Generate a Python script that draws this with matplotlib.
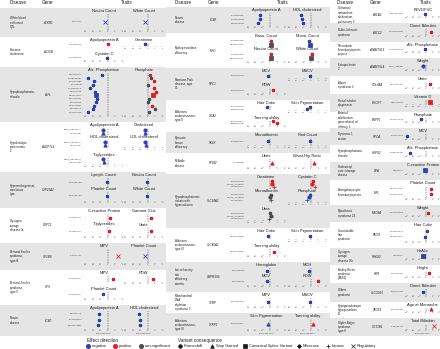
import matplotlib
matplotlib.use("Agg")
import matplotlib.pyplot as plt
from matplotlib.patches import Rectangle

plt.rcParams['font.family'] = ['Liberation Sans', 'DejaVu Sans']

# ---- data (left column, then middle, then right) ----
DISEASES = [
    "White blood\ncell count\nQTL", "Fructose\nintolerance", "Hypophosphatasia,\ninfantile",
    "Hypobetalipo-\nproteinemia\n2", "Hyperandrogenism,\nnonclassic\ntype", "Glycogen\nstorage\ndisease Ia",
    "Bernard-Soulier\nsyndrome,\ntype B", "Bernard-Soulier\nsyndrome,\ntype C", "Norum\ndisease",
    "Norum\ndisease", "Myeloperoxidase\ndeficiency", "Niemann-Pick\ndisease, type\nC1",
    "Albinism,\noculocutaneous,\ntype II", "Pyruvate\nkinase\ndeficiency", "McArdle\ndisease",
    "Hypophosphatemic\nrickets with\nhypercalciuria", "Albinism,\noculocutaneous,\ntype IV",
    "Iron-refractory\niron\ndeficiency\nanemia", "Mitochondrial\nDNA\ndepletion\nsyndrome 3",
    "Albinism,\noculocutaneous,\ntype III",
    "Surfactant\nmetabolism\ndysfunction,\npulmonary 3", "Dubin-Johnson\nsyndrome",
    "Thrombotic\nthrombocytopenic\npurpura", "Ectopia lentis\n2", "Alport\nsyndrome 2",
    "Renal tubular\ndysgenesis", "Arterial\ncalcification,\ngeneralized, of\ninfancy, 1",
    "Dystonia 2,\ntorsion", "Hypophosphatasia,\ninfantile", "Cholesteryl\nester storage\ndisease",
    "Amegakaryocytic\nthrombocytopenia", "Myasthenic\nsyndrome 24", "Uncombable\nhair\nsyndrome",
    "Glycogen\nstorage\ndisease IXc", "Antley-Bixler\nsyndrome\n(ABS1)", "Gilbert\nsyndrome",
    "Hypogonadotropic\nhypogonadism\n11", "Crigler-Najjar\nsyndrome,\ntype II",
]
GENES = [
    "ACKR1", "ALDOB", "ALPL", "ANGPTL3", "CYP21A2", "G6PC1", "GP1BB", "GP9", "LCAT",
    "LCAT", "MPO", "NPC1", "OCA2", "PKLR", "PYGM", "SLC34A3", "SLC45A2", "TMPRSS6", "TYMP", "TYRP1",
    "ABCA3", "ABCC2", "ADAMTS13", "ADAMTSL4", "COL4A4", "DHCR7", "ENPP1", "HPCA", "HSPG2",
    "LIPA", "MPL", "MYO9A", "PADI3", "PHKG2", "POR", "SLCO1B1", "TACR3", "UGT1A1",
]
TRAITS = [
    ["Neutro Count", "White Count"],
    ["Apolipoprotein A", "Creatinine", "Cystatin C"],
    ["Alk. Phosphatase", "Phosphate"],
    ["Apolipoprotein A", "Cholesterol", "HDL cholesterol", "LDL cholesterol", "Triglycerides"],
    ["Lymph. Count", "Neutro Count", "Platelet Count", "White Count"],
    ["C-reactive Protein", "Gamma Glut.", "Triglycerides", "Urate"],
    ["MPV", "Platelet Count"],
    ["MPV", "PDW", "Platelet Count"],
    ["Apolipoprotein A", "HDL cholesterol"],
    ["Apolipoprotein A", "HDL cholesterol"],
    ["Baso. Count", "Mono. Count", "Neutro Count", "White Count"],
    ["MCV", "MSCV", "PDW"],
    ["Hair Color", "Skin Pigmentation", "Tanning ability"],
    ["Microalbumin", "Red Count"],
    ["Urate", "Waist-Hip Ratio"],
    ["Creatinine", "Cystatin C", "Microalbumin", "Phosphate", "Urea"],
    ["Hair Color", "Skin Pigmentation", "Tanning ability"],
    ["Hemoglobin", "MCH", "MCV", "RDW"],
    ["MPV", "MSCV"],
    ["Skin Pigmentation", "Tanning ability"],
    ["FEV1/FVC"], ["Direct Bilirubin"], ["Alk. Phosphatase"], ["Weight"], ["Urate"],
    ["Vitamin D"], ["Phosphate"], ["MCV"], ["Alk. Phosphatase"], ["C-reactive Protein"],
    ["Platelet Count"], ["Weight"], ["Hair Color"], ["HbA1c"], ["Height"],
    ["Direct Bilirubin"], ["Age at Menarche"], ["Total Bilirubin"],
]
VARIANTS = [
    ["c.-67T>C"], ["p.Ala150Pro"],
    ["p.Glu191Lys", "p.Asp378Val", "p.Arg136His", "p.Ala33Val", "p.Arg391Cys", "p.Gly63Arg",
     "c.648+1G>A", "p.Tyr263His", "p.Arg71His", "p.Val111Met", "p.Thr166Ile", "p.Arg167Trp"],
    ["c.883_884delAT", "p.Ser17Ter"], ["p.Val282Leu"], ["p.Arg83Cys"], ["c.-133C>G"],
    ["p.Asn61Ser"], ["p.Thr147Ile", "p.Arg159Gln", "p.Thr347Met"],
    ["p.Arg159Trp", "p.Asn155Ser", "p.Leu324Pro"], ["p.Arg569Trp", "c.2031-2A>C"],
    ["p.Ile1061Thr"], ["p.Arg419Gln", "p.His615Arg"], ["p.Arg510Gln"], ["p.Arg50Ter"],
    ["p.Ser192Leu", "c.1402_1422del", "c.448+5G>A"], ["p.Leu374Phe"], ["p.Val736Ala"],
    ["p.Glu289Ala"], ["p.Ser166Ter"],
    ["p.Glu292Val"], ["p.Arg1150His"], ["p.Arg1060Trp"], ["c.767_786del"], ["p.Gly545Ala"],
    ["c.964-1G>C"], ["p.Arg774Cys"], ["p.Asn75Lys"], ["p.Asp361Val"], ["c.894G>A"],
    ["p.Pro106Leu", "p.Arg102Pro"], ["p.Arg701Cys"], ["p.Arg112Cys", "p.Leu113Pro"],
    ["c.190C>T"], ["p.Ala503Val"], ["p.Val174Ala"], ["p.Trp275Ter"], ["c.-3279T>G"],
]
CONSEQ = [
    ["Regulatory"], ["Missense"], ["Missense"] * 6 + ["Canonical Splice Variant"] + ["Missense"] * 5,
    ["Frameshift", "Stop Gained"], ["Missense"], ["Missense"], ["Regulatory"], ["Missense"],
    ["Missense"] * 3,
    ["Missense"] * 3, ["Missense", "Canonical Splice Variant"], ["Missense"], ["Missense", "Missense"],
    ["Missense"], ["Stop Gained"], ["Missense", "Frameshift", "Intronic"], ["Missense"], ["Missense"],
    ["Missense"], ["Stop Gained"],
    ["Missense"], ["Missense"], ["Missense"], ["Frameshift"], ["Missense"], ["Canonical Splice Variant"],
    ["Missense"], ["Missense"], ["Missense"], ["Canonical Splice Variant"], ["Missense", "Missense"],
    ["Missense"], ["Missense", "Missense"], ["Canonical Splice Variant"], ["Missense"], ["Missense"],
    ["Stop Gained"], ["Regulatory"],
]
# effect size per trait per variant (None = not shown)
BETA = [
    [[-0.3], [-0.3]],
    [[0.1], [-0.4], [-0.1]],
    [[-0.7, -2.6, -1.8, -1.9, -2.4, -1.7, -1.5, -1.4, -1.5, -1.8, -1.9, -2.6],
     [0.3, 0.5, 0.9, 0.1, 0.9, 1.1, 0.7, 0.2, 0.1, 0.6, 1.0, 0.2]],
    [[-0.6, -0.6], [-0.3, -0.3], [-0.4, -0.3], [-0.3, -0.2], [-0.6, -0.5]],
    [[-0.1], [-0.1], [-0.1], [-0.1]],
    [[0.3], [0.5], [0.2], [0.5]],
    [[1.4], [-0.4]],
    [[0.7], [0.7], [-0.6]],
    [[-1.2, -1.2, -1.3], [-1.2, -1.0, -1.0]],
    [[-1.3, -1.4, -1.6], [-1.3, -1.2, -1.1]],
    [[0.2, 0.1], [-0.3, -0.2], [0.2, 0.1], [0.1, 0.0]],
    [[-0.3], [-0.2], [0.4]],
    [[-0.4, None], [-0.2, -0.5], [0.4, 1.0]],
    [[-0.3], [-0.2]],
    [[0.3], [0.4]],
    [[0.3, 0.3, 0.5], [0.3, 0.2, 0.5], [0.1, 0.0, 0.1], [-0.2, -0.3, -0.5], [0.0, 0.1, -0.1]],
    [[-0.3], [-0.2], [0.6]],
    [[-0.4], [-0.3], [-0.4], [0.9]],
    [[-0.3], [-0.2]],
    [[-0.3], [0.3]],
    [[-0.1]], [[0.7]], [[-0.2]], [[-0.5]], [[0.6]], [[0.6]], [[-0.7]], [[-3.0]], [[-2.4]],
    [[-0.1]], [[0.8, 0.7]], [[0.3]], [[0.1, -0.1]], [[-0.5]], [[0.5]], [[-0.4]], [[0.7]], [[1.2]],
]
# effect direction per trait, one char per variant: n negative, p positive, o non-significant
SIG = [
    ["n", "n"], ["p", "n", "n"], ["nnnnnnnnnnnn", "popopppoopoo"], ["nn", "nn", "nn", "nn", "nn"],
    ["n", "n", "n", "n"], ["p", "p", "p", "p"], ["p", "n"], ["p", "p", "n"], ["nnn", "nnn"],
    ["nnn", "nnn"], ["po", "nn", "po", "po"], ["n", "n", "p"], ["n-", "on", "pp"], ["n", "n"],
    ["p", "p"], ["ppp", "ppp", "ooo", "nnn", "ooo"], ["n", "n", "p"], ["n", "n", "n", "p"],
    ["n", "n"], ["n", "p"],
    ["n"], ["p"], ["n"], ["n"], ["p"], ["p"], ["n"], ["n"], ["n"], ["n"], ["pp"], ["p"], ["on"],
    ["n"], ["p"], ["n"], ["p"], ["p"],
]

# ---- layout (pixels) ----
W, H = 440, 349
COLS = [
    dict(rows=range(0, 9), x0=0, x1=166, dis_x=10, gene_x=48, zeros=[107.5, 147.5], scale=7.4,
         edges=[8, 37, 67, 122, 172, 208, 243, 270, 305, 336], hdr=(10, 48, 127), first_gray=True),
    dict(rows=range(9, 20), x0=166, x1=330, dis_x=175, gene_x=213, zeros=[270, 311], scale=7.4,
         edges=[7, 33, 68, 100, 132, 153, 174, 228, 262, 292, 313, 336], hdr=(175, 214, 283), first_gray=True),
    dict(rows=range(20, 38), x0=330, x1=440, dis_x=338, gene_x=377, zeros=[426], scale=6.5,
         edges=[7, 23, 42, 58, 76, 94, 112, 128, 145, 162, 180, 205, 222, 248, 265, 283, 302, 318, 336],
         hdr=(337, 375, 426), first_gray=False),
]
XLO, XHI = -3.3, 2.3
PAD_T, STRIP, AXIS, PAD_B = 1.0, 4.5, 5.0, 2.5
GRAY = "#e5e5e5"
COLOR = {"n": "#2f3fb0", "p": "#e41a1c", "o": "#4d4d4d"}
MARKER = {"Frameshift": "o", "Stop Gained": "^", "Canonical Splice Variant": "s",
          "Missense": (8, 2, 0), "Intronic": "+", "Regulatory": "x"}

fig = plt.figure(figsize=(W / 100, H / 100), dpi=100)
base = fig.add_axes([0, 0, 1, 1])
base.set_xlim(0, W)
base.set_ylim(H, 0)
base.axis("off")


def add_panel(x0, x1, y0, y1):
    return fig.add_axes([x0 / W, 1 - y1 / H, (x1 - x0) / W, (y1 - y0) / H], facecolor="none")


for col in COLS:
    rows = list(col["rows"])
    ncol = len(col["zeros"])
    sc = col["scale"]
    hx = col["hdr"]
    base.text(hx[0], 3, "Disease", fontsize=3.3, ha="left", va="center", color="#1a1a1a")
    base.text(hx[1], 3, "Gene", fontsize=3.3, ha="center", va="center", color="#1a1a1a")
    base.text(hx[2], 3, "Traits", fontsize=3.3, ha="center", va="center", color="#1a1a1a")
    for i, r in enumerate(rows):
        top, bot = col["edges"][i], col["edges"][i + 1]
        gray = (i % 2 == 0) == col["first_gray"]
        if gray:
            base.add_patch(Rectangle((col["x0"], top), col["x1"] - col["x0"], bot - top,
                                     color=GRAY, lw=0, zorder=0))
        base.text(col["dis_x"], (top + bot) / 2, DISEASES[r], fontsize=2.1, ha="left",
                  va="center", color="#1a1a1a", linespacing=1.15)
        base.text(col["gene_x"], (top + bot) / 2, GENES[r], fontsize=2.1, ha="center",
                  va="center", style="italic", color="#1a1a1a")

        traits = TRAITS[r]
        nvar = len(VARIANTS[r])
        nprow = (len(traits) + ncol - 1) // ncol
        need_axis = [any(k < len(traits) and k + ncol >= len(traits)
                         for k in range(pr * ncol, pr * ncol + ncol)) for pr in range(nprow)]
        ph = (bot - top - PAD_T - PAD_B - nprow * STRIP - sum(need_axis) * AXIS) / nprow
        y = top + PAD_T
        for pr in range(nprow):
            ystrip = y + STRIP / 2
            py0 = y + STRIP
            py1 = py0 + ph
            for pc in range(ncol):
                k = pr * ncol + pc
                if k >= len(traits):
                    continue
                z = col["zeros"][pc]
                px0, px1 = z + XLO * sc, z + XHI * sc
                base.text((px0 + px1) / 2, ystrip, traits[k], fontsize=2.9, ha="center",
                          va="center", color="#1a1a1a")
                ax = add_panel(px0, px1, py0, py1)
                ax.set_xlim(XLO, XHI)
                ax.set_ylim(nvar + 0.6, 0.4)
                for s in ax.spines.values():
                    s.set_visible(False)
                ax.axvline(0, color="#333333", lw=0.35, ls=(0, (3, 2)))
                for v in range(nvar):
                    b = BETA[r][k][v]
                    d = SIG[r][k][v]
                    if b is None or d == "-":
                        continue
                    m = MARKER[CONSEQ[r][v]]
                    ax.plot(b, v + 1, marker=m, ms=2.4, color=COLOR[d], mec=COLOR[d],
                            mew=0.55, ls="none", clip_on=False)
                ax.set_yticks([])
                if k + ncol >= len(traits):
                    ax.set_xticks([-3, -2, -1, 0, 1, 2])
                    ax.tick_params(axis="x", labelsize=1.6, length=0.8, width=0.3, pad=0.4,
                                   colors="#4d4d4d")
                    if i == len(rows) - 1:
                        base.text((px0 + px1) / 2, py1 + 4.6, "Beta (SD units)", fontsize=1.6,
                                  ha="center", va="center", color="#333333")
                else:
                    ax.set_xticks([])
            # variant labels for this panel row
            lx = col["zeros"][0] + XLO * sc - 1
            for v in range(nvar):
                vy = py0 + (v + 1 - 0.4) / (nvar + 0.2) * ph
                base.text(lx, vy, VARIANTS[r][v], fontsize=1.7, ha="right", va="center",
                          color="#333333")
            y = py1 + (AXIS if need_axis[pr] else 0)

# ---- legends ----
base.text(87, 340.5, "Effect direction", fontsize=3.3, ha="left", va="center", color="#1a1a1a")
for x, key, lab in [(88, "n", "negative"), (115, "p", "positive"), (141, "o", "non-significant")]:
    base.plot(x, 346, "o", ms=2.6, color=COLOR[key])
    base.text(x + 3.5, 346, lab, fontsize=2.9, ha="left", va="center", color="#1a1a1a")
base.text(178, 340.5, "Variant consequence", fontsize=3.3, ha="left", va="center", color="#1a1a1a")
for x, lab in [(180, "Frameshift"), (212, "Stop Gained"), (245, "Canonical Splice Variant"),
               (299, "Missense"), (328, "Intronic"), (353, "Regulatory")]:
    m = MARKER[lab]
    base.plot(x, 346, marker=m, ms=2.6 if lab != "Missense" else 3.0, color="#1a1a1a",
              mew=0.5, ls="none")
    base.text(x + 4, 346, lab, fontsize=2.9, ha="left", va="center", color="#1a1a1a")

fig.savefig("out.png", dpi=100)
